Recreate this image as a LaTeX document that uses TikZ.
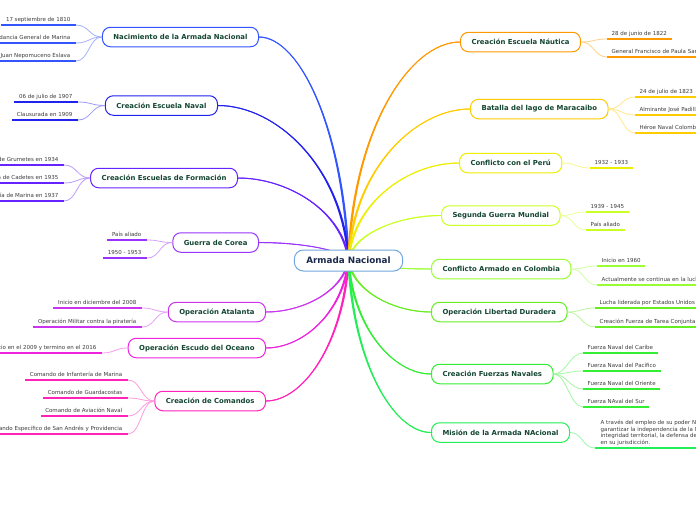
\documentclass[tikz,border=0pt]{standalone}
\usepackage{fontspec}
\setmainfont{DejaVu Sans}
\usetikzlibrary{calc,backgrounds}
\definecolor{titletxt}{RGB}{20,70,50}
\definecolor{ctrtxt}{RGB}{25,40,75}
\definecolor{ctrline}{RGB}{111,168,220}
\definecolor{leaftxt}{RGB}{60,60,60}
\definecolor{cNac}{RGB}{51,85,255}
\definecolor{cEN}{RGB}{34,34,238}
\definecolor{cEF}{RGB}{102,34,255}
\definecolor{cGC}{RGB}{153,51,255}
\definecolor{cOA}{RGB}{204,51,238}
\definecolor{cOE}{RGB}{238,34,221}
\definecolor{cCC}{RGB}{255,34,187}
\definecolor{cNa}{RGB}{255,153,0}
\definecolor{cBM}{RGB}{255,204,0}
\definecolor{cCP}{RGB}{238,238,0}
\definecolor{cSG}{RGB}{204,255,34}
\definecolor{cCA}{RGB}{153,255,51}
\definecolor{cOL}{RGB}{102,238,34}
\definecolor{cFN}{RGB}{51,238,51}
\definecolor{cMA}{RGB}{34,238,85}
\tikzset{
  mainbox/.style={draw=#1, rounded corners=8pt, line width=1pt, fill=white,
    font=\fontsize{6.9}{8}\selectfont\bfseries, text=titletxt,
    inner xsep=11pt, inner ysep=0pt, minimum height=19.5pt},
  ctrbox/.style={draw=ctrline, rounded corners=9pt, line width=1pt, fill=white,
    font=\fontsize{8.8}{10}\selectfont\bfseries, text=ctrtxt,
    inner xsep=12pt, inner ysep=0pt, minimum height=21pt},
  leaf/.style={font=\fontsize{5.5}{6.7}\selectfont, text=leaftxt, inner sep=0.5pt},
  trunk/.style={draw=#1, line width=0.9pt},
  twig/.style={draw=#1!45, line width=0.8pt},
  uline/.style={draw=#1, line width=2pt},
}
\newcommand\leafL[5]{%
  \coordinate (#1a) at (#3,#4);
  \node[leaf, anchor=base east] (#1) at ({#3-5},{#4-3.3}) {#5};
  \draw[uline=#2] (#1a) -- ($(#1a -| #1.west)+(-4,0)$);}
\newcommand\leafR[5]{%
  \coordinate (#1a) at (#3,#4);
  \node[leaf, anchor=base west] (#1) at ({#3+4},{#4-3.3}) {#5};
  \draw[uline=#2] (#1a) -- ($(#1a -| #1.east)+(4,0)$);}
\newcommand\twigL[3]{\draw[twig=#2] (#1.west) .. controls +(-13,0) and +(13,0) .. (#3a);}
\newcommand\twigR[3]{\draw[twig=#2] (#1.east) .. controls +(13,0) and +(-13,0) .. (#3a);}
% tapered trunk: #1 node, #2 colour, #3 node x, #4 node y, #5 side sign, #6 anchor, #7 control x near centre
\newcommand\trunkany[7]{%
  \pgfmathsetmacro\tkb{#4+0.4*(260-#4)}%
  \pgfmathsetmacro\tkc{#3+0.45*(348-#3)}%
  \fill[#2] ($(#1.#6)+(0,-0.5)$) .. controls (\tkc,{#4-0.5}) and ({#7+(#5)*1.2},\tkb)
     .. ($(ctr.center)+({(#5)*1.2},0)$) -- ($(ctr.center)+({-(#5)*1.2},0)$)
     .. controls ({#7-(#5)*1.2},\tkb) and (\tkc,{#4+0.5}) .. ($(#1.#6)+(0,0.5)$) -- cycle;
  \draw[trunk=#2] (ctr.center) .. controls (#7,\tkb) and (\tkc,#4) .. (#1.#6);}
\newcommand\trunkL[5]{\trunkany{#1}{#2}{#3}{#4}{#5}{east}{343}}
\newcommand\trunkR[5]{\trunkany{#1}{#2}{#3}{#4}{#5}{west}{353}}
\begin{document}
\begin{tikzpicture}[x=1pt,y=-1pt]
\useasboundingbox (0,0) rectangle (696,520);
% central
\node[ctrbox] (ctr) at (348.5,260.5) {Armada Nacional};
% left main nodes
\node[mainbox=cNac, anchor=east] (nac) at (259,37) {Nacimiento de la Armada Nacional};
\node[mainbox=cEN, anchor=east] (en) at (218,105.5) {Creación Escuela Naval};
\node[mainbox=cEF, anchor=east] (ef) at (238,178) {Creación Escuelas de Formación};
\node[mainbox=cGC, anchor=east] (gc) at (259,242.5) {Guerra de Corea};
\node[mainbox=cOA, anchor=east] (oa) at (266,312) {Operación Atalanta};
\node[mainbox=cOE, anchor=east] (oe) at (266,348) {Operación Escudo del Oceano};
\node[mainbox=cCC, anchor=east] (cc) at (266,401) {Creación de Comandos};
% right main nodes
\node[mainbox=cNa, anchor=west] (na) at (460,42) {Creación Escuela Náutica};
\node[mainbox=cBM, anchor=west] (bm) at (470,109) {Batalla del lago de Maracaibo};
\node[mainbox=cCP, anchor=west] (cp) at (459,163) {Conflicto con el Perú};
\node[mainbox=cSG, anchor=west] (sg) at (441,215.5) {Segunda Guerra Mundial};
\node[mainbox=cCA, anchor=west] (ca) at (431,269) {Conflicto Armado en Colombia};
\node[mainbox=cOL, anchor=west] (ol) at (431,312) {Operación Libertad Duradera};
\node[mainbox=cFN, anchor=west] (fn) at (431,374) {Creación Fuerzas Navales};
\node[mainbox=cMA, anchor=west] (ma) at (431,432.5) {Misión de la Armada NAcional};
% trunks
\begin{pgfonlayer}{background}
\fill[white] (0,0) rectangle (696,520);
\trunkL{nac}{cNac}{259}{37}{1}
\trunkL{en}{cEN}{218}{105.5}{1}
\trunkL{ef}{cEF}{238}{178}{1}
\trunkL{gc}{cGC}{259}{242.5}{1}
\trunkL{oa}{cOA}{266}{312}{-1}
\trunkL{oe}{cOE}{266}{348}{-1}
\trunkL{cc}{cCC}{266}{401}{-1}
\trunkR{na}{cNa}{460}{42}{-1}
\trunkR{bm}{cBM}{470}{109}{-1}
\trunkR{cp}{cCP}{459}{163}{-1}
\trunkR{sg}{cSG}{441}{215.5}{-1}
\trunkR{ca}{cCA}{431}{269}{1}
\trunkR{ol}{cOL}{431}{312}{1}
\trunkR{fn}{cFN}{431}{374}{1}
\trunkR{ma}{cMA}{431}{432.5}{1}
\end{pgfonlayer}
% left leaves
\leafL{nac1}{cNac}{76}{25}{17 septiembre de 1810}
\leafL{nac2}{cNac}{76}{43}{Intendancia General de Marina}
\leafL{nac3}{cNac}{76}{61}{Juan Nepomuceno Eslava}
\twigL{nac}{cNac}{nac1}\twigL{nac}{cNac}{nac2}\twigL{nac}{cNac}{nac3}
\leafL{en1}{cEN}{78}{102}{06 de julio de 1907}
\leafL{en2}{cEN}{78}{120}{Clausurada en 1909}
\twigL{en}{cEN}{en1}\twigL{en}{cEN}{en2}
\leafL{ef1}{cEF}{64}{165}{Escuela de Grumetes en 1934}
\leafL{ef2}{cEF}{64}{183}{Escuela de Cadetes en 1935}
\leafL{ef3}{cEF}{64}{201}{Escuela de Infantería de Marina en 1937}
\twigL{ef}{cEF}{ef1}\twigL{ef}{cEF}{ef2}\twigL{ef}{cEF}{ef3}
\leafL{gc1}{cGC}{147}{240}{País aliado}
\leafL{gc2}{cGC}{147}{258}{1950 - 1953}
\twigL{gc}{cGC}{gc1}\twigL{gc}{cGC}{gc2}
\leafL{oa1}{cOA}{142}{308}{Inicio en diciembre del 2008}
\leafL{oa2}{cOA}{142}{327}{Operación Militar contra la piratería}
\twigL{oa}{cOA}{oa1}\twigL{oa}{cOA}{oa2}
\leafL{oe1}{cOE}{102}{353}{Inicio en el 2009 y termino en el 2016}
\twigL{oe}{cOE}{oe1}
\leafL{cc1}{cCC}{128}{380}{Comando de Infantería de Marina}
\leafL{cc2}{cCC}{128}{398}{Comando de Guardacostas}
\leafL{cc3}{cCC}{128}{416}{Comando de Aviación Naval}
\leafL{cc4}{cCC}{128}{434}{Comando Específico de San Andrés y Providencia}
\twigL{cc}{cCC}{cc1}\twigL{cc}{cCC}{cc2}\twigL{cc}{cCC}{cc3}\twigL{cc}{cCC}{cc4}
% right leaves
\leafR{na1}{cNa}{607}{39}{28 de junio de 1822}
\leafR{na2}{cNa}{607}{57}{General Francisco de Paula Santander}
\twigR{na}{cNa}{na1}\twigR{na}{cNa}{na2}
\leafR{bm1}{cBM}{635}{97}{24 de julio de 1823}
\leafR{bm2}{cBM}{635}{115}{Almirante José Padilla}
\leafR{bm3}{cBM}{635}{133}{Héroe Naval Colombiano}
\twigR{bm}{cBM}{bm1}\twigR{bm}{cBM}{bm2}\twigR{bm}{cBM}{bm3}
\leafR{cp1}{cCP}{590}{168}{1932 - 1933}
\twigR{cp}{cCP}{cp1}
\leafR{sg1}{cSG}{586}{212}{1939 - 1945}
\leafR{sg2}{cSG}{586}{230}{País aliado}
\twigR{sg}{cSG}{sg1}\twigR{sg}{cSG}{sg2}
\leafR{ca1}{cCA}{597}{266}{Inicio en 1960}
\leafR{ca2}{cCA}{597}{285}{Actualmente se continua en la lucha}
\twigR{ca}{cCA}{ca1}\twigR{ca}{cCA}{ca2}
\leafR{ol1}{cOL}{595}{308}{Lucha liderada por Estados Unidos}
\leafR{ol2}{cOL}{595}{327}{Creación Fuerza de Tarea Conjunta}
\twigR{ol}{cOL}{ol1}\twigR{ol}{cOL}{ol2}
\leafR{fn1}{cFN}{583}{353}{Fuerza Naval del Caribe}
\leafR{fn2}{cFN}{583}{371}{Fuerza Naval del Pacífico}
\leafR{fn3}{cFN}{583}{389}{Fuerza Naval del Oriente}
\leafR{fn4}{cFN}{583}{407}{Fuerza NAval del Sur}
\twigR{fn}{cFN}{fn1}\twigR{fn}{cFN}{fn2}\twigR{fn}{cFN}{fn3}\twigR{fn}{cFN}{fn4}
\coordinate (ma1a) at (595,448);
\node[leaf, anchor=south west, align=left] (ma1) at (600,446.5) {A través del empleo de su poder Naval,\\garantizar la independencia de la Nación,\\integridad territorial, la defensa de los\\en su jurisdicción.};
\draw[uline=cMA] (ma1a) -- ($(ma1a -| ma1.east)+(4,0)$);
\twigR{ma}{cMA}{ma1}
\end{tikzpicture}
\end{document}
